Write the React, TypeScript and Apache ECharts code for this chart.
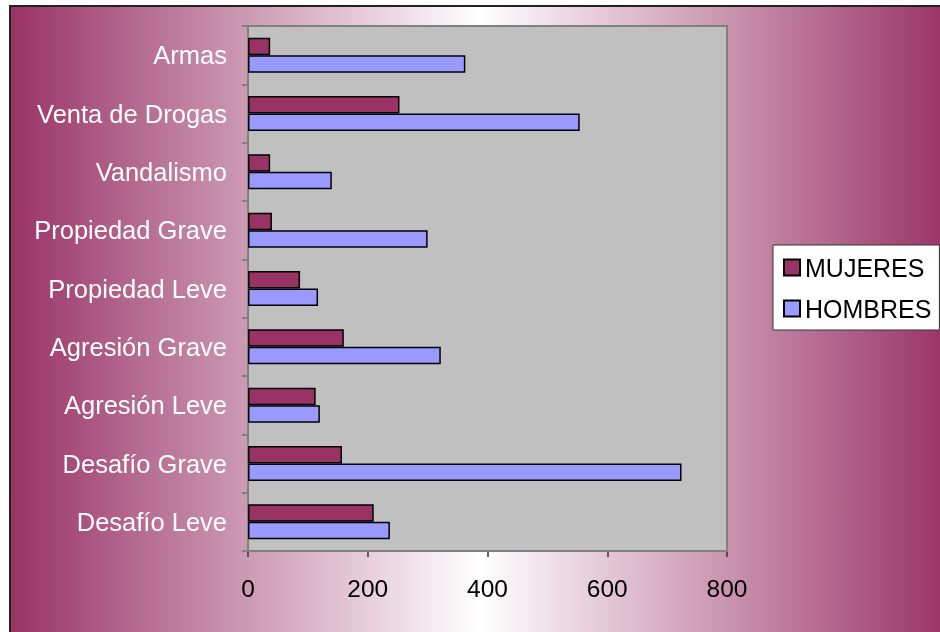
import React, { useEffect, useRef } from "react";
import * as echarts from "echarts";

const categories = [
  "Armas",
  "Venta de Drogas",
  "Vandalismo",
  "Propiedad Grave",
  "Propiedad Leve",
  "Agresión Grave",
  "Agresión Leve",
  "Desafío Grave",
  "Desafío Leve",
];
const mujeres = [37, 253, 37, 40, 87, 160, 113, 157, 210];
const hombres = [363, 554, 140, 300, 117, 322, 120, 724, 237];
const xTicks = [0, 200, 400, 600, 800];

const FONT = "'Liberation Sans', Arial, Helvetica, sans-serif";

export default function App() {
  const ref = useRef<HTMLDivElement>(null);
  useEffect(() => {
    if (!ref.current) return;
    const chart = echarts.init(ref.current, null, { renderer: "svg" });
    chart.setOption({
      animation: false,
      textStyle: { fontFamily: FONT },
      graphic: [
        {
          type: "rect",
          z: -100,
          zlevel: 0,
          silent: true,
          shape: { x: 10, y: 6, width: 940, height: 640 },
          style: {
            fill: new echarts.graphic.LinearGradient(0, 0, 1, 0, [
              { offset: 0, color: "#993366" },
              { offset: 0.5, color: "#ffffff" },
              { offset: 1, color: "#993366" },
            ]),
            stroke: "#222222",
            lineWidth: 2,
          },
        },
      ],
      grid: {
        left: 248,
        right: 213,
        top: 26,
        bottom: 81,
        show: true,
        backgroundColor: "#c0c0c0",
        borderColor: "#808080",
        borderWidth: 2,
        z: 1,
      },
      legend: {
        orient: "vertical",
        left: 773,
        top: 245,
        data: ["MUJERES", "HOMBRES"],
        backgroundColor: "#ffffff",
        borderColor: "#333333",
        borderWidth: 1,
        padding: [10, 8, 9, 10],
        itemWidth: 16,
        itemHeight: 16,
        itemGap: 16,
        icon: "rect",
        textStyle: { fontSize: 25, color: "#000", fontFamily: FONT },
      },
      xAxis: {
        type: "value",
        min: 0,
        max: 800,
        interval: 200,
        axisLine: { show: true, lineStyle: { color: "#333", width: 1.5 } },
        axisTick: { show: true, length: 6, lineStyle: { color: "#333", width: 1.5 } },
        splitLine: { show: true, lineStyle: { color: "#333", width: 1.5 } },
        axisLabel: {
          fontSize: 24.5,
          color: "#000",
          margin: 25,
          fontFamily: FONT,
          showMaxLabel: true,
          formatter: (v: number) => (xTicks.includes(v) ? String(v) : ""),
        },
      },
      yAxis: {
        type: "category",
        data: categories,
        inverse: true,
        axisLine: { show: true, lineStyle: { color: "#808080", width: 2 } },
        axisTick: { show: true, length: 6, lineStyle: { color: "#808080", width: 2 } },
        axisLabel: { fontSize: 25.5, color: "#ffffff", margin: 21, fontFamily: FONT },
      },
      series: [
        {
          name: "MUJERES",
          type: "bar",
          data: mujeres,
          barGap: "0%",
          barCategoryGap: "40%",
          itemStyle: { color: "#993366", borderColor: "#000", borderWidth: 1.5 },
        },
        {
          name: "HOMBRES",
          type: "bar",
          data: hombres,
          barGap: "0%",
          barCategoryGap: "40%",
          itemStyle: { color: "#9999ff", borderColor: "#000", borderWidth: 1.5 },
        },
      ],
    });
    return () => chart.dispose();
  }, []);
  return (
    <div
      ref={ref}
      style={{ position: "fixed", left: 0, top: 0, width: 940, height: 632 }}
    />
  );
}
